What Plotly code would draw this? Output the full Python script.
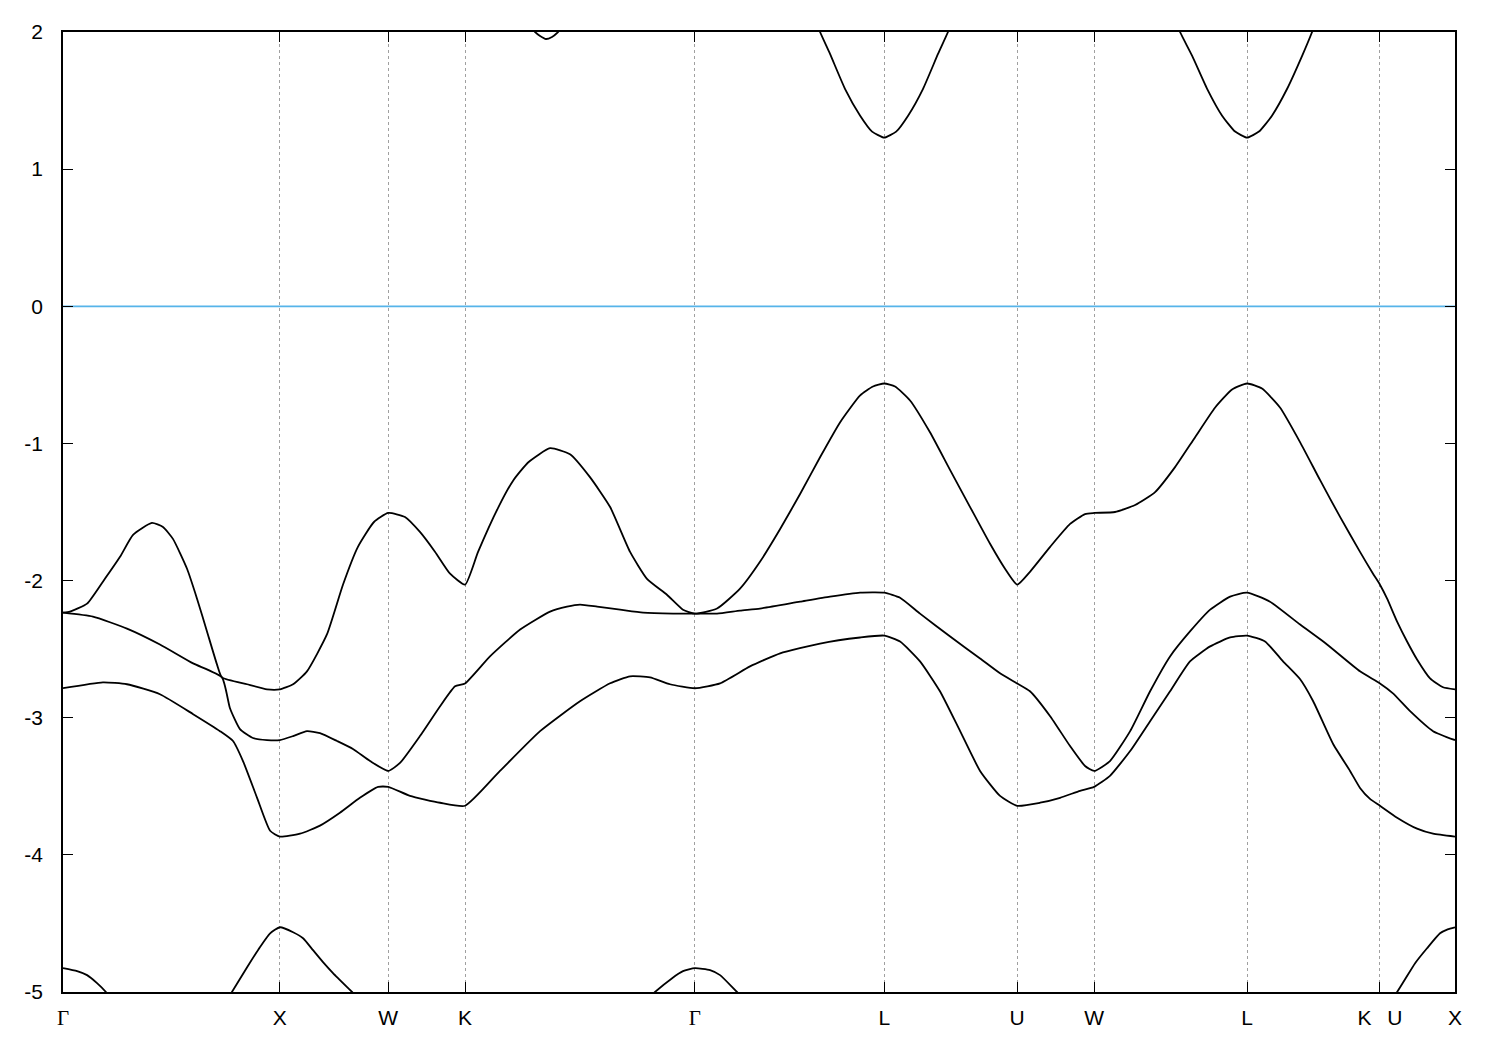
import plotly.graph_objects as go

# High-symmetry points along the k-path
hs_k = [0.0, 1.0, 1.5, 1.854, 2.914, 3.787, 4.400, 4.755, 5.460, 6.073, 6.419]
hs_labels = ["Γ", "X", "W", "K", "Γ", "L", "U", "W", "L", "K\u00a0\u00a0\u2009U", "X"]

y_ticks = [2, 1, 0, -1, -2, -3, -4, -5]
y_ticktext = ["2", "1", "0", "-1", "-2", "-3", "-4", "-5"]

# Upper valence band
band3_k = [0.0, 0.032, 0.111, 0.184, 0.263, 0.323, 0.410, 0.461, 0.507, 0.572, 0.618, 0.664, 0.710, 0.733,
           0.849, 0.941, 1.0, 1.061, 1.125, 1.217, 1.291, 1.360, 1.434, 1.5, 1.577, 1.646, 1.716, 1.785, 1.854,
           1.914, 2.008, 2.077, 2.146, 2.246, 2.338, 2.430, 2.523, 2.615, 2.693, 2.785, 2.859, 2.914,
           3.016, 3.122, 3.214, 3.307, 3.399, 3.491, 3.583, 3.676, 3.735, 3.787,
           3.837, 3.906, 3.998, 4.091, 4.183, 4.275, 4.344, 4.400,
           4.459, 4.552, 4.644, 4.713, 4.755,
           4.851, 4.944, 5.036, 5.128, 5.220, 5.313, 5.391, 5.460,
           5.529, 5.612, 5.705, 5.797, 5.889, 5.981, 6.041, 6.073,
           6.106, 6.152, 6.198, 6.244, 6.304, 6.364, 6.419]
band3_E = [-2.234, -2.226, -2.168, -2.008, -1.827, -1.667, -1.580, -1.609, -1.696, -1.914, -2.132, -2.371, -2.611, -2.706,
           -2.756, -2.793, -2.793, -2.756, -2.662, -2.393, -2.030, -1.754, -1.573, -1.507, -1.536, -1.645, -1.791, -1.950, -2.030,
           -1.791, -1.464, -1.268, -1.137, -1.035, -1.079, -1.246, -1.464, -1.791, -1.987, -2.103, -2.212, -2.241,
           -2.204, -2.059, -1.863, -1.624, -1.369, -1.101, -0.847, -0.650, -0.585, -0.563,
           -0.585, -0.687, -0.919, -1.195, -1.464, -1.732, -1.914, -2.030,
           -1.936, -1.754, -1.587, -1.515, -1.507,
           -1.500, -1.449, -1.355, -1.173, -0.956, -0.738, -0.607, -0.563,
           -0.600, -0.738, -0.992, -1.268, -1.536, -1.791, -1.950, -2.030,
           -2.132, -2.299, -2.444, -2.575, -2.713, -2.778, -2.793]

# Middle valence band
band2_k = [0.0, 0.138, 0.295, 0.447, 0.600, 0.733, 0.770, 0.816, 0.876, 0.941, 1.0,
           1.061, 1.125, 1.185, 1.264, 1.337, 1.416, 1.5,
           1.554, 1.646, 1.739, 1.808, 1.854,
           1.969, 2.108, 2.246, 2.324, 2.384, 2.463, 2.569, 2.675, 2.813, 2.914,
           3.016, 3.122, 3.214, 3.399, 3.537, 3.676, 3.787,
           3.860, 3.952, 4.091, 4.229, 4.321, 4.400,
           4.459, 4.552, 4.644, 4.713, 4.755,
           4.828, 4.921, 5.013, 5.105, 5.197, 5.290, 5.382, 5.460,
           5.566, 5.705, 5.829, 5.981, 6.073,
           6.133, 6.212, 6.318, 6.419]
band2_E = [-2.234, -2.263, -2.350, -2.466, -2.604, -2.706, -2.931, -3.083, -3.148, -3.163, -3.163,
           -3.134, -3.098, -3.112, -3.170, -3.228, -3.316, -3.388,
           -3.330, -3.134, -2.916, -2.771, -2.750,
           -2.553, -2.357, -2.226, -2.190, -2.175, -2.190, -2.212, -2.234, -2.241, -2.241,
           -2.241, -2.219, -2.204, -2.154, -2.117, -2.088, -2.088,
           -2.125, -2.241, -2.408, -2.568, -2.676, -2.750,
           -2.807, -2.989, -3.207, -3.352, -3.388,
           -3.316, -3.098, -2.807, -2.553, -2.371, -2.212, -2.117, -2.088,
           -2.154, -2.321, -2.466, -2.662, -2.750,
           -2.822, -2.952, -3.098, -3.163]

# Lower valence band
band1_k = [0.0, 0.184, 0.295, 0.447, 0.600, 0.724, 0.784, 0.830, 0.895, 0.955, 1.0,
           1.093, 1.185, 1.277, 1.369, 1.453, 1.5,
           1.600, 1.739, 1.854,
           2.015, 2.200, 2.384, 2.523, 2.615, 2.707, 2.799, 2.914,
           3.030, 3.168, 3.307, 3.491, 3.676, 3.787,
           3.860, 3.952, 4.044, 4.137, 4.229, 4.321, 4.400,
           4.506, 4.598, 4.690, 4.755,
           4.828, 4.921, 5.013, 5.105, 5.197, 5.290, 5.382, 5.460,
           5.543, 5.626, 5.705, 5.765, 5.857, 5.935, 5.981, 6.027, 6.073,
           6.152, 6.244, 6.318, 6.419]
band1_E = [-2.785, -2.742, -2.756, -2.829, -2.974, -3.098, -3.170, -3.316, -3.584, -3.824, -3.867,
           -3.846, -3.787, -3.693, -3.584, -3.504, -3.504,
           -3.570, -3.620, -3.642,
           -3.388, -3.098, -2.880, -2.749, -2.698, -2.706, -2.756, -2.785,
           -2.749, -2.626, -2.531, -2.459, -2.415, -2.401,
           -2.444, -2.589, -2.807, -3.098, -3.388, -3.570, -3.642,
           -3.620, -3.584, -3.533, -3.504,
           -3.424, -3.243, -3.025, -2.807, -2.589, -2.480, -2.415, -2.401,
           -2.444, -2.589, -2.720, -2.880, -3.192, -3.388, -3.512, -3.592, -3.642,
           -3.729, -3.809, -3.846, -3.867]

# Deep band (partly below the window)
band0_k = [0.0, 0.065, 0.111, 0.157, 0.198, 0.240, None,
           0.747, 0.779, 0.849, 0.908, 0.955, 1.0, 1.061, 1.107, 1.153, 1.199, 1.245, 1.333, 1.379, None,
           2.684, 2.730, 2.809, 2.859, 2.914, 2.984, 3.030, 3.108, 3.154, None,
           6.110, 6.152, 6.235, 6.290, 6.350, 6.385, 6.419]
band0_E = [-4.826, -4.848, -4.877, -4.935, -5.0, -5.08, None,
           -5.08, -5.0, -4.819, -4.673, -4.572, -4.528, -4.564, -4.608, -4.695, -4.782, -4.862, -5.0, -5.073, None,
           -5.07, -5.0, -4.899, -4.848, -4.826, -4.840, -4.877, -5.0, -5.07, None,
           -5.08, -5.0, -4.790, -4.681, -4.572, -4.543, -4.528]

# Conduction band (partly above the window)
band4_k = [2.144, 2.177, 2.200, 2.227, 2.255, 2.283, 2.315, None,
           3.468, 3.491, 3.537, 3.606, 3.676, 3.731, 3.787, 3.842, 3.897, 3.966, 4.035, 4.081, 4.104, None,
           5.128, 5.151, 5.207, 5.276, 5.345, 5.405, 5.460, 5.515, 5.575, 5.645, 5.714, 5.760, 5.783]
band4_E = [2.058, 2.0, 1.971, 1.949, 1.964, 2.0, 2.058, None,
           2.1, 2.0, 1.840, 1.586, 1.390, 1.274, 1.230, 1.274, 1.390, 1.586, 1.840, 2.0, 2.1, None,
           2.1, 2.0, 1.826, 1.586, 1.390, 1.274, 1.230, 1.274, 1.390, 1.586, 1.826, 2.0, 2.1]

fermi_k = [0.0, 6.419]
fermi_E = [0.0, 0.0]

fig = go.Figure()
fig.add_trace(go.Scatter(x=fermi_k, y=fermi_E, mode="lines",
                         line=dict(color="#56b4e9", width=1.8), hoverinfo="skip"))
for bk, be in [(band0_k, band0_E), (band1_k, band1_E), (band2_k, band2_E),
               (band3_k, band3_E), (band4_k, band4_E)]:
    fig.add_trace(go.Scatter(x=bk, y=be, mode="lines",
                             line=dict(color="black", width=1.8, shape="spline", smoothing=0.5),
                             connectgaps=False))

serif = "<span style='font-family:\"Liberation Serif\", \"DejaVu Serif\", serif'>Γ</span>"
ticktext = [serif if t == "Γ" else t for t in hs_labels]

fig.update_layout(
    width=1500, height=1050,
    margin=dict(l=55, r=53, t=18, b=66),
    paper_bgcolor="white", plot_bgcolor="white",
    showlegend=False,
    font=dict(family="Liberation Sans, Arial, sans-serif", size=21, color="black"),
)
fig.update_xaxes(
    range=[hs_k[0], hs_k[-1]], tickmode="array", tickvals=hs_k, ticktext=ticktext,
    ticks="inside", ticklen=10, tickwidth=1.2, tickcolor="black",
    showline=True, linecolor="black", linewidth=1.6, mirror="ticks",
    showgrid=True, gridcolor="#a0a0a0", gridwidth=1, griddash="3px,3px",
    zeroline=False, ticklabelstandoff=6,
)
fig.update_yaxes(
    range=[-5, 2], tickmode="array", tickvals=y_ticks, ticktext=y_ticktext,
    ticks="inside", ticklen=10, tickwidth=1.2, tickcolor="black",
    showline=True, linecolor="black", linewidth=1.6, mirror="ticks",
    showgrid=False, zeroline=False, ticklabelstandoff=14,
)

fig.write_html("out.html")
